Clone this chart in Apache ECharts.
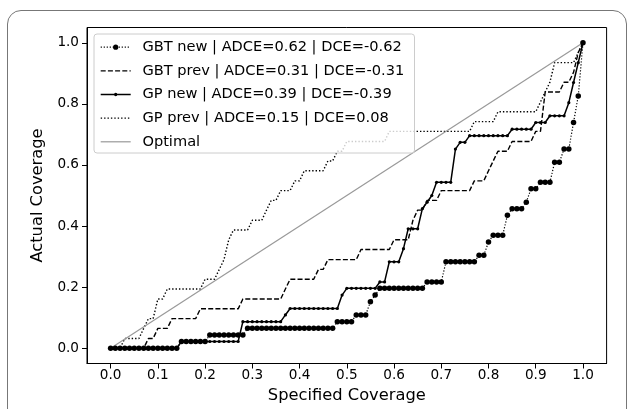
<!DOCTYPE html>
<html>
<head>
<meta charset="utf-8">
<script src="https://cdn.jsdelivr.net/npm/echarts@6/dist/echarts.min.js"></script>
<style>
  html, body { margin: 0; padding: 0; background: #fff; }
  body { width: 627px; height: 409px; overflow: hidden; position: relative; }
  #frame { position: absolute; left: 7px; top: 10px; width: 620px; height: 460px;
           border: 1.5px solid #777; border-radius: 14px; box-sizing: border-box; }
  #chart { position: absolute; left: 0; top: 0; width: 627px; height: 409px; }
</style>
</head>
<body>
<div id="frame"></div>
<div id="chart"></div>
<script>
// ---- data ----
const specified = [
  0,0.01,0.02,0.03,0.04,0.05,0.06,0.07,0.08,0.09,
  0.1,0.11,0.12,0.13,0.14,0.15,0.16,0.17,0.18,0.19,
  0.2,0.21,0.22,0.23,0.24,0.25,0.26,0.27,0.28,0.29,
  0.3,0.31,0.32,0.33,0.34,0.35,0.36,0.37,0.38,0.39,
  0.4,0.41,0.42,0.43,0.44,0.45,0.46,0.47,0.48,0.49,
  0.5,0.51,0.52,0.53,0.54,0.55,0.56,0.57,0.58,0.59,
  0.6,0.61,0.62,0.63,0.64,0.65,0.66,0.67,0.68,0.69,
  0.7,0.71,0.72,0.73,0.74,0.75,0.76,0.77,0.78,0.79,
  0.8,0.81,0.82,0.83,0.84,0.85,0.86,0.87,0.88,0.89,
  0.9,0.91,0.92,0.93,0.94,0.95,0.96,0.97,0.98,0.99,
  1
];
const gbtNew = [
  0,0,0,0,0,0,0,0,0,0,
  0,0,0,0,0,0.022,0.022,0.022,0.022,0.022,
  0.022,0.043,0.043,0.043,0.043,0.043,0.043,0.043,0.043,0.065,
  0.065,0.065,0.065,0.065,0.065,0.065,0.065,0.065,0.065,0.065,
  0.065,0.065,0.065,0.065,0.065,0.065,0.065,0.065,0.087,0.087,
  0.087,0.087,0.109,0.109,0.109,0.152,0.174,0.196,0.196,0.196,
  0.196,0.196,0.196,0.196,0.196,0.196,0.196,0.217,0.217,0.217,
  0.217,0.283,0.283,0.283,0.283,0.283,0.283,0.283,0.304,0.304,
  0.348,0.370,0.370,0.370,0.435,0.457,0.457,0.457,0.478,0.522,
  0.522,0.543,0.543,0.543,0.609,0.609,0.652,0.652,0.739,0.826,
  1
];
const gbtPrev = [
  0,0,0,0,0,0,0,0,0.032,0.032,
  0.065,0.065,0.065,0.097,0.097,0.097,0.097,0.097,0.097,0.129,
  0.129,0.129,0.129,0.129,0.129,0.129,0.129,0.129,0.161,0.161,
  0.161,0.161,0.161,0.161,0.161,0.161,0.161,0.194,0.226,0.226,
  0.226,0.226,0.226,0.226,0.258,0.258,0.290,0.290,0.290,0.290,
  0.290,0.290,0.290,0.323,0.323,0.323,0.323,0.323,0.323,0.323,
  0.355,0.355,0.355,0.355,0.419,0.452,0.452,0.484,0.484,0.484,
  0.516,0.516,0.516,0.516,0.516,0.516,0.516,0.548,0.548,0.548,
  0.581,0.613,0.645,0.645,0.645,0.677,0.677,0.677,0.677,0.677,
  0.710,0.710,0.839,0.839,0.839,0.839,0.871,0.871,0.903,0.968,
  1
];
const gpNew = [
  0,0,0,0,0,0,0,0,0,0,
  0,0,0,0,0,0.022,0.022,0.022,0.022,0.022,
  0.022,0.022,0.022,0.022,0.022,0.022,0.022,0.022,0.087,0.087,
  0.087,0.087,0.087,0.087,0.087,0.087,0.087,0.109,0.130,0.130,
  0.130,0.130,0.130,0.130,0.130,0.130,0.130,0.130,0.130,0.174,
  0.196,0.196,0.196,0.196,0.196,0.196,0.196,0.217,0.217,0.283,
  0.283,0.283,0.326,0.391,0.391,0.391,0.457,0.478,0.500,0.543,
  0.543,0.543,0.543,0.652,0.674,0.674,0.696,0.696,0.696,0.696,
  0.696,0.696,0.696,0.696,0.696,0.717,0.717,0.717,0.717,0.717,
  0.739,0.739,0.739,0.761,0.761,0.761,0.761,0.804,0.870,0.935,
  1
];
const gpPrev = [
  0,0,0,0.032,0.032,0.032,0.032,0.065,0.097,0.097,
  0.161,0.161,0.194,0.194,0.194,0.194,0.194,0.194,0.194,0.194,
  0.226,0.226,0.226,0.258,0.290,0.355,0.387,0.387,0.387,0.387,
  0.419,0.419,0.419,0.452,0.484,0.484,0.516,0.516,0.516,0.548,
  0.548,0.581,0.581,0.581,0.581,0.581,0.613,0.613,0.645,0.645,
  0.677,0.677,0.677,0.677,0.677,0.677,0.677,0.677,0.677,0.710,
  0.710,0.710,0.710,0.710,0.710,0.710,0.710,0.710,0.710,0.710,
  0.710,0.710,0.710,0.710,0.710,0.710,0.710,0.742,0.742,0.742,
  0.742,0.742,0.774,0.774,0.774,0.774,0.774,0.774,0.774,0.774,
  0.774,0.806,0.839,0.871,0.935,0.935,0.935,0.935,0.935,0.968,
  1
];
const optimalX = [0, 1];
const optimalY = [0, 1];
const xTicks = [0, 0.1, 0.2, 0.3, 0.4, 0.5, 0.6, 0.7, 0.8, 0.9, 1.0];
const yTicks = [0, 0.2, 0.4, 0.6, 0.8, 1.0];
const seriesNames = [
  'GBT new | ADCE=0.62 | DCE=-0.62',
  'GBT prev | ADCE=0.31 | DCE=-0.31',
  'GP new | ADCE=0.39 | DCE=-0.39',
  'GP prev | ADCE=0.15 | DCE=0.08',
  'Optimal'
];
const xName = 'Specified Coverage';
const yName = 'Actual Coverage';

// ---- build ----
const zip = (xs, ys) => xs.map((x, i) => [x, ys[i]]);
const FONT = 'DejaVu Sans';

const chart = echarts.init(document.getElementById('chart'));
const axisCommon = {
  type: 'value',
  min: -0.05,
  max: 1.05,
  nameLocation: 'middle',
  nameTextStyle: { fontFamily: FONT, fontSize: 16.3, color: '#000' },
  axisLine: { show: true, onZero: false, lineStyle: { color: '#000', width: 1 } },
  splitLine: { show: false }
};

chart.setOption({
  animation: false,
  backgroundColor: 'transparent',
  grid: { left: 87, right: 20.4, top: 27.5, bottom: 45.5, show: true, borderColor: '#000', borderWidth: 1, backgroundColor: 'transparent' },
  xAxis: Object.assign({}, axisCommon, {
    name: xName,
    nameGap: 24,
    axisTick: { show: true, inside: false, length: 5, customValues: xTicks, lineStyle: { color: '#000', width: 1 } },
    axisLabel: { customValues: xTicks, formatter: v => v.toFixed(1), fontFamily: FONT, fontSize: 13.6, color: '#000', margin: 5 }
  }),
  yAxis: Object.assign({}, axisCommon, {
    name: yName,
    nameGap: 41,
    axisTick: { show: true, inside: false, length: 5, customValues: yTicks, lineStyle: { color: '#000', width: 1 } },
    axisLabel: { customValues: yTicks, formatter: v => v.toFixed(1), fontFamily: FONT, fontSize: 13.6, color: '#000', margin: 8 }
  }),
  legend: {
    orient: 'vertical',
    left: 94,
    top: 34,
    padding: [5.7, 10.3, 3.7, 6],
    itemWidth: 30,
    itemHeight: 6.5,
    itemGap: 8.65,
    selectedMode: false,
    backgroundColor: 'rgba(255,255,255,0.8)',
    borderColor: '#cccccc',
    borderWidth: 1,
    borderRadius: 3,
    itemStyle: { borderWidth: 0 },
    textStyle: { fontFamily: FONT, fontSize: 14.6, color: '#000', lineHeight: 14, padding: [0, 0, 0, 6.7] },
    data: [
      { name: seriesNames[0], lineStyle: { width: 1.2 } },
      { name: seriesNames[1], itemStyle: { opacity: 0, borderWidth: 0 }, lineStyle: { width: 1.4 } },
      { name: seriesNames[2], icon: 'path://M0,1.05h30v1.5h-30z M13.3,1.8a1.7,1.7 0 1 1 3.4,0a1.7,1.7 0 1 1 -3.4,0z', itemStyle: { borderWidth: 0 } },
      { name: seriesNames[3], itemStyle: { opacity: 0, borderWidth: 0 }, lineStyle: { width: 1.4 } },
      { name: seriesNames[4], itemStyle: { opacity: 0, borderWidth: 0 }, lineStyle: { width: 1.2 } }
    ]
  },
  series: [
    {
      name: seriesNames[0], type: 'line', data: zip(specified, gbtNew),
      symbol: 'circle', symbolSize: 5.5, showSymbol: true,
      lineStyle: { color: '#000', width: 1.2, type: [1.2, 1.8] },
      itemStyle: { color: '#000', borderWidth: 0 },
      emphasis: { disabled: true }, z: 2
    },
    {
      name: seriesNames[1], type: 'line', data: zip(specified, gbtPrev),
      symbol: 'none',
      lineStyle: { color: '#000', width: 1.4, type: [5, 2.2] },
      itemStyle: { color: '#000', borderWidth: 0 },
      emphasis: { disabled: true }, z: 2
    },
    {
      name: seriesNames[2], type: 'line', data: zip(specified, gpNew),
      symbol: 'circle', symbolSize: 3.2, showSymbol: true,
      lineStyle: { color: '#000', width: 1.5, type: 'solid' },
      itemStyle: { color: '#000', borderWidth: 0 },
      emphasis: { disabled: true }, z: 2
    },
    {
      name: seriesNames[3], type: 'line', data: zip(specified, gpPrev),
      symbol: 'none',
      lineStyle: { color: '#000', width: 1.4, type: [1.4, 2] },
      itemStyle: { color: '#000', borderWidth: 0 },
      emphasis: { disabled: true }, z: 2
    },
    {
      name: seriesNames[4], type: 'line', data: zip(optimalX, optimalY),
      symbol: 'none',
      lineStyle: { color: '#999', width: 1.2, type: 'solid' },
      itemStyle: { color: '#999', borderWidth: 0 },
      emphasis: { disabled: true }, z: 2
    }
  ]
});
</script>
</body>
</html>
